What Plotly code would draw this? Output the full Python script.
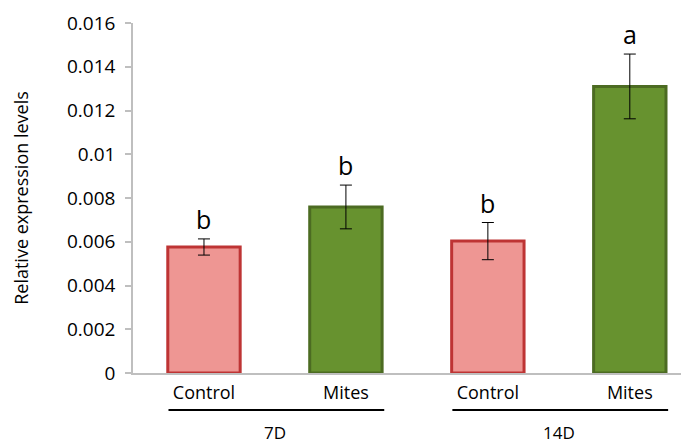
import plotly.graph_objects as go

categories = ["Control", "Mites", "Control", "Mites"]
groups = ["7D", "14D"]
values = [0.00576, 0.00759, 0.00603, 0.01310]
errors = [0.00037, 0.00100, 0.00085, 0.00148]
letters = ["b", "b", "b", "a"]
ytick_vals = [0, 0.002, 0.004, 0.006, 0.008, 0.01, 0.012, 0.014, 0.016]
ytick_text = ["0", "0.002", "0.004", "0.006", "0.008", "0.01", "0.012", "0.014", "0.016"]

fills = ["#EE9693", "#67922F", "#EE9693", "#67922F"]
borders = ["#BE3434", "#4C6B22", "#BE3434", "#4C6B22"]

FONT = "Open Sans, Liberation Sans, sans-serif"
xs = list(range(len(categories)))

fig = go.Figure()
fig.add_trace(go.Bar(
    x=xs, y=values, width=0.51,
    marker=dict(color=fills, line=dict(color=borders, width=3)),
    error_y=dict(type="data", array=errors, visible=True,
                 color="black", thickness=1, width=6),
    showlegend=False,
))

for x, v, e, t in zip(xs, values, errors, letters):
    fig.add_annotation(x=x, y=v + e, text=t, showarrow=False,
                       yanchor="bottom", yshift=1,
                       font=dict(family=FONT, size=25, color="black"))

for gi, g in enumerate(groups):
    a = gi * 2
    fig.add_shape(type="line", xref="x", yref="paper",
                  x0=a - 0.25, x1=a + 1.27, y0=-0.106, y1=-0.106,
                  line=dict(color="black", width=2))
    fig.add_annotation(x=a + 0.5, y=-0.17, xref="x", yref="paper",
                       text=g, showarrow=False, yanchor="middle",
                       font=dict(family=FONT, size=17, color="black"))

fig.update_layout(
    width=681, height=436,
    margin=dict(l=125, r=1, t=15, b=71, autoexpand=False),
    plot_bgcolor="white", paper_bgcolor="white",
    font=dict(family=FONT, color="black"),
    bargap=0.49,
)
fig.update_xaxes(
    range=[-0.5, 3.41], tickvals=xs, ticktext=categories,
    showline=True, linecolor="#BFBFBF", linewidth=1.5,
    ticks="", showgrid=False, zeroline=False, automargin=False,
    tickfont=dict(family=FONT, size=18, color="black"),
    ticklabelstandoff=3,
)
fig.update_yaxes(
    range=[0, 0.016], tickvals=ytick_vals, ticktext=ytick_text,
    showline=True, linecolor="#BFBFBF", linewidth=1.5,
    ticks="outside", ticklen=6, tickcolor="#BFBFBF", tickwidth=1.5,
    showgrid=False, zeroline=False, automargin=False,
    tickfont=dict(family=FONT, size=19, color="black"),
    ticklabelstandoff=6,
    title=dict(text="Relative expression levels", standoff=34,
               font=dict(family=FONT, size=18, color="black")),
)

fig.write_html("out.html")
